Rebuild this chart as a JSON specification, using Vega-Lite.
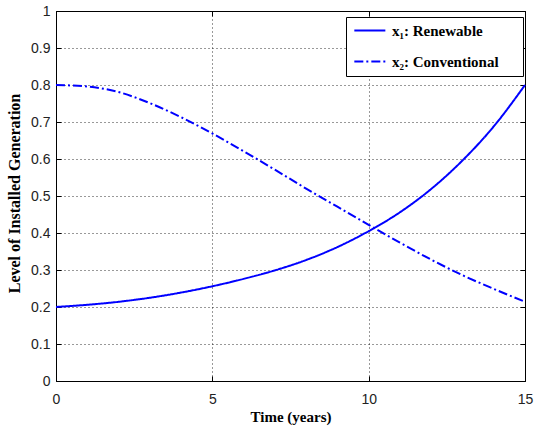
{
  "$schema": "https://vega.github.io/schema/vega-lite/v6.json",
  "width": 469,
  "height": 370,
  "autosize": {"type": "none"},
  "padding": {"left": 56, "top": 11, "right": 9, "bottom": 50},
  "background": "white",
  "config": {
    "view": {"stroke": "#000000", "strokeWidth": 1},
    "axis": {
      "domain": false,
      "grid": true,
      "gridColor": "#000000",
      "gridDash": [1, 3],
      "gridOpacity": 0.8,
      "tickColor": "#000000",
      "tickSize": -5,
      "labelFont": "Liberation Sans",
      "labelFontSize": 14,
      "labelColor": "#222222",
      "titleFont": "Liberation Serif",
      "titleFontWeight": "bold",
      "titleColor": "#000000"
    }
  },
  "data": {
    "values": [
      {"t": 0, "v": 0.200, "s": "x₁: Renewable"},
      {"t": 1, "v": 0.206, "s": "x₁: Renewable"},
      {"t": 2, "v": 0.214, "s": "x₁: Renewable"},
      {"t": 3, "v": 0.225, "s": "x₁: Renewable"},
      {"t": 4, "v": 0.239, "s": "x₁: Renewable"},
      {"t": 5, "v": 0.256, "s": "x₁: Renewable"},
      {"t": 6, "v": 0.276, "s": "x₁: Renewable"},
      {"t": 7, "v": 0.299, "s": "x₁: Renewable"},
      {"t": 8, "v": 0.327, "s": "x₁: Renewable"},
      {"t": 9, "v": 0.362, "s": "x₁: Renewable"},
      {"t": 10, "v": 0.405, "s": "x₁: Renewable"},
      {"t": 11, "v": 0.456, "s": "x₁: Renewable"},
      {"t": 12, "v": 0.519, "s": "x₁: Renewable"},
      {"t": 13, "v": 0.596, "s": "x₁: Renewable"},
      {"t": 14, "v": 0.688, "s": "x₁: Renewable"},
      {"t": 15, "v": 0.800, "s": "x₁: Renewable"},
      {"t": 0, "v": 0.800, "s": "x₂: Conventional"},
      {"t": 1, "v": 0.796, "s": "x₂: Conventional"},
      {"t": 2, "v": 0.781, "s": "x₂: Conventional"},
      {"t": 3, "v": 0.751, "s": "x₂: Conventional"},
      {"t": 4, "v": 0.713, "s": "x₂: Conventional"},
      {"t": 5, "v": 0.669, "s": "x₂: Conventional"},
      {"t": 6, "v": 0.621, "s": "x₂: Conventional"},
      {"t": 7, "v": 0.571, "s": "x₂: Conventional"},
      {"t": 8, "v": 0.520, "s": "x₂: Conventional"},
      {"t": 9, "v": 0.471, "s": "x₂: Conventional"},
      {"t": 10, "v": 0.422, "s": "x₂: Conventional"},
      {"t": 11, "v": 0.374, "s": "x₂: Conventional"},
      {"t": 12, "v": 0.328, "s": "x₂: Conventional"},
      {"t": 13, "v": 0.286, "s": "x₂: Conventional"},
      {"t": 14, "v": 0.249, "s": "x₂: Conventional"},
      {"t": 15, "v": 0.214, "s": "x₂: Conventional"}
    ]
  },
  "resolve": {"axis": {"x": "independent", "y": "independent"}},
  "layer": [
    {
      "mark": {"type": "line", "strokeWidth": 2, "interpolate": "monotone"},
      "encoding": {
        "x": {
          "field": "t", "type": "quantitative",
          "scale": {"domain": [0, 15], "nice": false, "zero": false},
          "axis": {"values": [0, 5, 10, 15], "title": "Time (years)", "titleFontSize": 15, "labelPadding": 16, "titleY": 28, "labelFlush": false}
        },
        "y": {
          "field": "v", "type": "quantitative",
          "scale": {"domain": [0, 1], "nice": false},
          "axis": {"values": [0, 0.1, 0.2, 0.3, 0.4, 0.5, 0.6, 0.7, 0.8, 0.9, 1], "format": ".1~f", "title": "Level of Installed Generation", "titleFontSize": 16, "labelPadding": 11, "titleX": -34, "titleY": 182, "labelFlush": false}
        },
        "color": {
          "field": "s", "type": "nominal",
          "scale": {"domain": ["x₁: Renewable", "x₂: Conventional"], "range": ["#0000ff", "#0000ff"]},
          "legend": {
            "title": ["\u00a0", "\u00a0", "\u00a0"],
            "titleOrient": "right",
            "titleFontSize": 11,
            "titleLineHeight": 17,
            "titlePadding": 18,
            "orient": "none",
            "legendX": 290,
            "legendY": 6,
            "fillColor": "white",
            "strokeColor": "#000000",
            "padding": 6,
            "symbolType": "M-1,0H5",
            "symbolSize": 107,
            "symbolStrokeWidth": 2,
            "symbolFillColor": "transparent",
            "labelFont": "Liberation Serif",
            "labelFontWeight": "bold",
            "labelFontSize": 15,
            "labelColor": "#000000",
            "labelOffset": 25,
            "rowPadding": 15
          }
        },
        "strokeDash": {
          "field": "s", "type": "nominal",
          "scale": {"domain": ["x₁: Renewable", "x₂: Conventional"], "range": [[1, 0], [9, 3, 2, 3]]},
          "legend": null
        }
      }
    },
    {
      "mark": {"type": "point", "opacity": 0},
      "encoding": {
        "x": {
          "field": "t", "type": "quantitative",
          "axis": {"orient": "top", "values": [0, 5, 10, 15], "labels": false, "grid": false, "title": null}
        },
        "y": {
          "field": "v", "type": "quantitative",
          "axis": {"orient": "right", "values": [0, 0.1, 0.2, 0.3, 0.4, 0.5, 0.6, 0.7, 0.8, 0.9, 1], "labels": false, "grid": false, "title": null}
        }
      }
    }
  ]
}
